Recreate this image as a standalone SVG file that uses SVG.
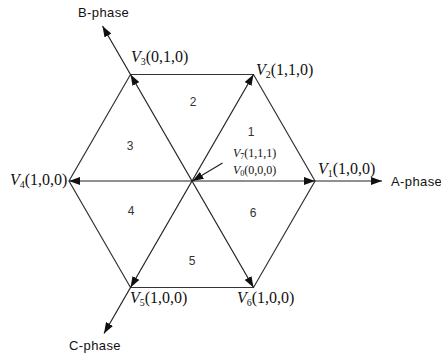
<svg xmlns="http://www.w3.org/2000/svg" width="441" height="358" viewBox="0 0 441 358">
<defs>
<marker id="ah" markerUnits="userSpaceOnUse" markerWidth="12" markerHeight="8" refX="11" refY="4" orient="auto">
<path d="M0,0 L11,4 L0,8 z" fill="#111"/>
</marker>
<style>
.e{stroke:#333;stroke-width:1.2;fill:none}
.a{stroke:#222;stroke-width:1.2;fill:none;marker-end:url(#ah)}
.v{font-family:"Liberation Serif",serif;font-size:16px;fill:#111}
.s{font-family:"Liberation Serif",serif;font-size:12px;fill:#111}
.n{font-family:"Liberation Sans",sans-serif;font-size:12px;fill:#333}
.p{font-family:"Liberation Sans",sans-serif;font-size:13px;fill:#111;letter-spacing:0.4px}
</style>
</defs>
<rect width="441" height="358" fill="#fff"/>
<g id="connectors">
<path class="e" d="M130.5,74.5 L253.5,74.5 L315,181 L253.5,287.5 L130.5,287.5 L69,181 Z"/>
<line class="a" x1="192" y1="181" x2="315" y2="181"/>
<line class="a" x1="192" y1="181" x2="253.5" y2="74.5"/>
<line class="a" x1="192" y1="181" x2="130.5" y2="74.5"/>
<line class="a" x1="192" y1="181" x2="69" y2="181"/>
<line class="a" x1="192" y1="181" x2="130.5" y2="287.5"/>
<line class="a" x1="192" y1="181" x2="253.5" y2="287.5"/>
<line class="a" x1="315" y1="181" x2="382" y2="181"/>
<line class="a" x1="130.5" y1="74.5" x2="102.5" y2="26"/>
<line class="a" x1="130.5" y1="287.5" x2="104" y2="333.5"/>
<line class="a" x1="222.5" y1="163" x2="192.5" y2="181"/>
</g>
<g id="V1"><text class="v" x="318" y="174"><tspan font-style="italic">V</tspan><tspan font-size="10" dy="3">1</tspan><tspan dy="-3">(1,0,0)</tspan></text></g>
<g id="V2"><text class="v" x="256" y="75"><tspan font-style="italic">V</tspan><tspan font-size="10" dy="3">2</tspan><tspan dy="-3">(1,1,0)</tspan></text></g>
<g id="V3"><text class="v" x="131" y="62"><tspan font-style="italic">V</tspan><tspan font-size="10" dy="3">3</tspan><tspan dy="-3">(0,1,0)</tspan></text></g>
<g id="V4"><text class="v" x="10" y="185"><tspan font-style="italic">V</tspan><tspan font-size="10" dy="3">4</tspan><tspan dy="-3">(1,0,0)</tspan></text></g>
<g id="V5"><text class="v" x="130" y="303"><tspan font-style="italic">V</tspan><tspan font-size="10" dy="3">5</tspan><tspan dy="-3">(1,0,0)</tspan></text></g>
<g id="V6"><text class="v" x="237" y="303"><tspan font-style="italic">V</tspan><tspan font-size="10" dy="3">6</tspan><tspan dy="-3">(1,0,0)</tspan></text></g>
<g id="V7V0">
<text class="s" x="233" y="157"><tspan font-style="italic">V</tspan><tspan font-size="8" dy="2">7</tspan><tspan dy="-2">(1,1,1)</tspan></text>
<text class="s" x="233" y="174"><tspan font-style="italic">V</tspan><tspan font-size="8" dy="2">0</tspan><tspan dy="-2">(0,0,0)</tspan></text>
</g>
<g id="sectors">
<text class="n" x="251" y="136" text-anchor="middle">1</text>
<text class="n" x="193" y="106" text-anchor="middle">2</text>
<text class="n" x="130" y="150" text-anchor="middle">3</text>
<text class="n" x="131" y="215" text-anchor="middle">4</text>
<text class="n" x="192" y="265" text-anchor="middle">5</text>
<text class="n" x="253" y="217" text-anchor="middle">6</text>
</g>
<g id="phases">
<text class="p" x="391" y="186">A-phase</text>
<text class="p" x="78" y="17">B-phase</text>
<text class="p" x="69" y="350">C-phase</text>
</g>
</svg>
